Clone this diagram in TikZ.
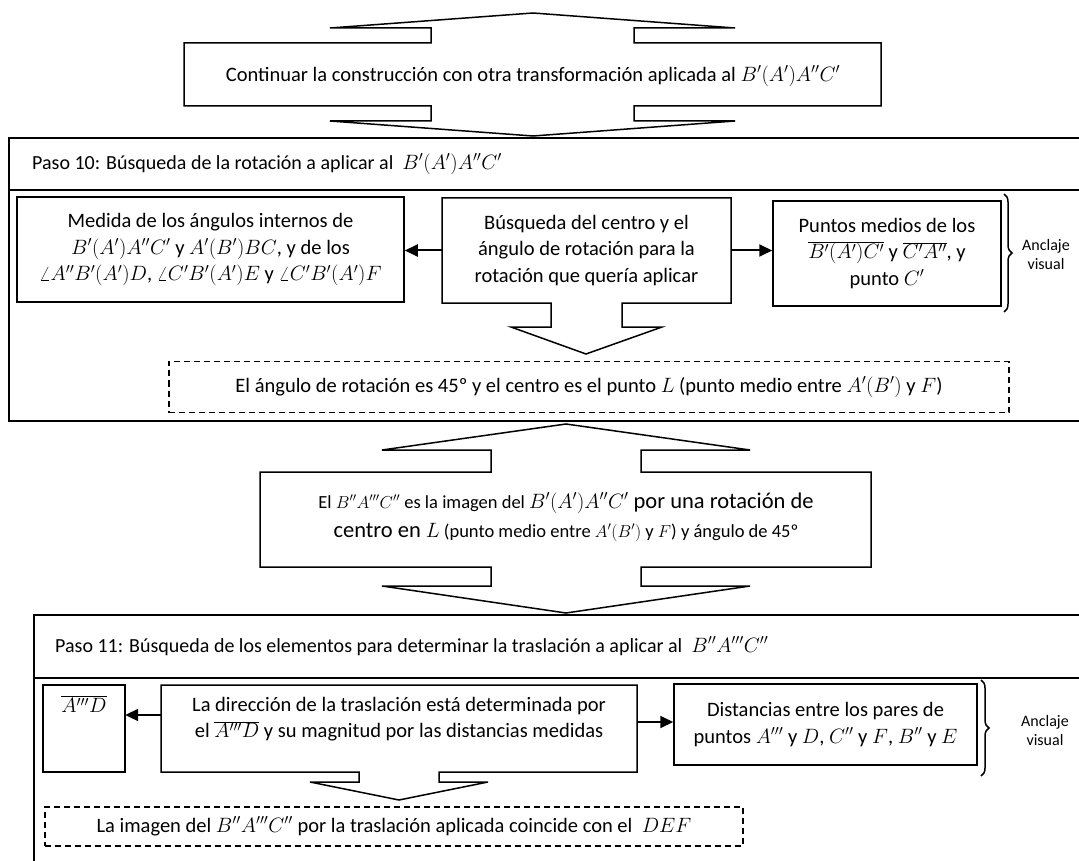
\documentclass[tikz,border=0pt]{standalone}
\usepackage{fontspec}
\setmainfont{Carlito}
\usetikzlibrary{arrows.meta,decorations.pathreplacing}
\begin{document}
\begin{tikzpicture}[x=1pt,y=-1pt]
\useasboundingbox (0,0) rectangle (1079,861);
\tikzset{
  shp/.style={draw, line width=1.5pt, line join=miter, fill=white},
  outer/.style={draw, line width=2.2pt},
  bx/.style={draw, line width=1.5pt, inner sep=0pt, align=center},
  dbox/.style={draw, line width=1.4pt, dash pattern=on 6pt off 4pt, inner sep=0pt, align=center},
  txt/.style={font=\fontsize{20.5}{26.5}\selectfont, align=center, inner sep=0pt},
  hdr/.style={font=\fontsize{20}{26}\selectfont, inner sep=0pt},
  small/.style={font=\fontsize{16}{19}\selectfont, align=center, inner sep=0pt},
  arr/.style={-{Triangle[length=13pt,width=12pt]}, line width=2pt},
  brc/.style={decorate, decoration={brace, amplitude=8pt}, line width=1.5pt},
}
% ---------- top callout
\draw[shp] (184,43) -- (431,43) -- (431,28) -- (330,28) -- (533,13) -- (735,28) -- (634,28) -- (634,43)
  -- (881,43) -- (881,106) -- (634,106) -- (634,121) -- (735,121) -- (533,136) -- (330,121) -- (431,121)
  -- (431,106) -- (184,106) -- cycle;
\node[txt] (ctop) at (533,76) {Continuar la construcción con otra transformación aplicada al $B'(A')A''C'$};
% ---------- step 10
\draw[outer] (9,138) rectangle (1095,421);
\draw[outer] (9,190) -- (1095,190);
\node[hdr, anchor=west] (h10) at (32,164) {Paso 10: Búsqueda de la rotación a aplicar al\ \ $B'(A')A''C'$};
\node[bx, txt, minimum width=387pt, minimum height=105pt] (b10l) at (210.5,249.5)
  {Medida de los ángulos internos de\\ $B'(A')A''C'$ y $A'(B')BC$, y de los\\ $\angle A''B'(A')D$, $\angle C'B'(A')E$ y $\angle C'B'(A')F$};
\draw[shp] (442,198) -- (731,198) -- (731,303) -- (622,303) -- (622,327) -- (662,327) -- (586,354)
  -- (511,327) -- (551,327) -- (551,303) -- (442,303) -- cycle;
\node[txt, minimum width=289pt, minimum height=105pt] (b10c) at (586.5,250.5)
  {Búsqueda del centro y el\\ ángulo de rotación para la\\ rotación que quería aplicar};
\node[bx, txt, minimum width=228pt, minimum height=105pt] (b10r) at (887,253.5)
  {Puntos medios de los\\ $\overline{B'(A')C'}$ y $\overline{C'A''}$, y\\ punto $C'$};
\draw[arr] (b10c.west) -- (b10c.west -| b10l.east);
\draw[arr] (b10c.east) -- (b10c.east -| b10r.west);
\coordinate (br10a) at (1004,194);
\coordinate (br10b) at (1004,312);
\draw[brc] (br10a) -- (br10b);
\node[small] (av10) at (1046,255) {Anclaje\\visual};
\node[dbox, txt, minimum width=840pt, minimum height=51pt] (d10) at (589,387)
  {El ángulo de rotación es 45º y el centro es el punto $L$ (punto medio entre $A'(B')$ y $F$)};
% ---------- middle callout
\draw[shp] (260,472) -- (491,472) -- (491,450) -- (382,450) -- (566,424) -- (750,450) -- (641,450) -- (641,472)
  -- (871,472) -- (871,567) -- (641,567) -- (641,586) -- (750,586) -- (566,613) -- (382,586) -- (491,586)
  -- (491,567) -- (260,567) -- cycle;
\node[txt, font=\fontsize{18.5}{29}\selectfont] (cmid) at (566,517)
  {El $B''A'''C''$ es la imagen del {\fontsize{22.5}{29}\selectfont $B'(A')A''C'$ por una rotación de}\\
   {\fontsize{22.5}{29}\selectfont centro en $L$} (punto medio entre $A'(B')$ y $F$) y ángulo de 45º};
% ---------- step 11
\draw[outer] (34,615) rectangle (1095,900);
\draw[outer] (34,678) -- (1095,678);
\node[hdr, anchor=west] (h11) at (55,646) {Paso 11: Búsqueda de los elementos para determinar la traslación a aplicar al\ \ $B''A'''C''$};
\draw[bx] (43,685) rectangle (125,772);
\node[txt, minimum width=82pt] (b11l) at (84,704) {$\overline{A'''D}$};
\draw[shp] (161,685) -- (637,685) -- (637,772) -- (439,772) -- (439,782) -- (488,782) -- (399,800)
  -- (310,782) -- (359,782) -- (359,772) -- (161,772) -- cycle;
\node[txt, minimum width=476pt] (b11c) at (399,719)
  {La dirección de la traslación está determinada por\\ el $\overline{A'''D}$ y su magnitud por las distancias medidas};
\node[bx, txt, minimum width=303pt, minimum height=81pt] (b11r) at (825.5,724.5)
  {Distancias entre los pares de\\ puntos $A'''$ y $D$, $C''$ y $F$, $B''$ y $E$};
\draw[arr] ([yshift=4pt]b11c.west) -- ([yshift=4pt]b11c.west -| b11l.east);
\draw[arr] ([yshift=-3pt]b11c.east) -- ([yshift=-3pt]b11c.east -| b11r.west);
\coordinate (br11a) at (981,680);
\coordinate (br11b) at (981,776);
\draw[brc] (br11a) -- (br11b);
\node[small] (av11) at (1045,730) {Anclaje\\visual};
\node[dbox, txt, minimum width=698pt, minimum height=39pt] (d11) at (394,826.5)
  {La imagen del $B''A'''C''$ por la traslación aplicada coincide con el\ \ $DEF$};
\end{tikzpicture}
\end{document}
